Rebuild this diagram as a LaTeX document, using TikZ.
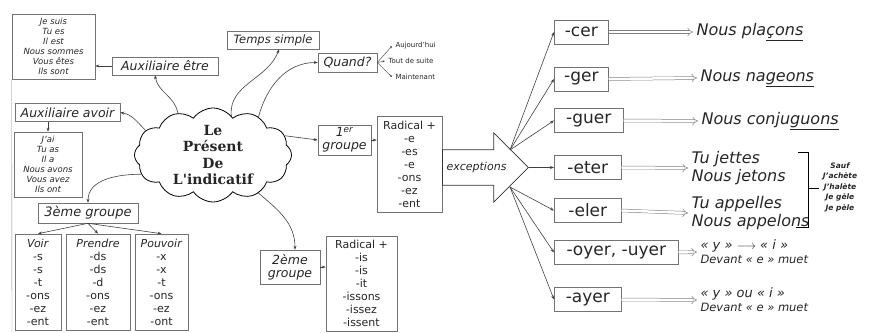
\documentclass[tikz,border=0pt]{standalone}
\usepackage{fontspec}
\setmainfont{DejaVu Sans}
\newfontfamily\titlefont{DejaVu Serif}
\usetikzlibrary{calc,shapes.symbols,shapes.arrows,arrows.meta}

\tikzset{
  box/.style={draw=black!55, line width=0.6pt, inner sep=1pt},
  lbl/.style={box, font=\itshape\fontsize{12.5}{13}\selectfont, minimum height=18pt},
  lst/.style={box, align=center, font=\fontsize{11}{13}\selectfont},
  conj/.style={box, align=center, font=\itshape\fontsize{8.5}{10}\selectfont},
  ending/.style={box, anchor=west, minimum height=24pt, font=\fontsize{17}{18}\selectfont},
  res/.style={anchor=west, align=left, font=\itshape\fontsize{16}{18}\selectfont},
  con/.style={-{Stealth[length=4pt,width=3pt]}, line width=0.6pt, black!75},
  dbl/.style={double=white, draw=black!50, double distance=2.5pt, line width=0.5pt, -{Implies}},
}

\begin{document}
\begin{tikzpicture}[x=1pt, y=1pt, text=black!85]

  \useasboundingbox (0,0) rectangle (870,332);

  % le nuage au centre
  \node[cloud, draw, line width=0.8pt, cloud puffs=12, cloud puff arc=110, aspect=1.67,
        minimum width=157pt, minimum height=94pt] (nuage) at (213,177) {};
  \node[align=center, font=\titlefont\bfseries\fontsize{14}{16.5}\selectfont] (titre) at (nuage) {Le\\Présent\\De\\L'indicatif};

  % auxiliaires
  \node[conj, minimum width=83pt, minimum height=65pt] (suis) at (53.5,285.5) {Je suis\\Tu es\\Il est\\Nous sommes\\Vous êtes\\Ils sont};
  \node[lbl, minimum width=106pt] (etre) at (165,266) {Auxiliaire être};
  \node[lbl, minimum width=105pt] (avoir) at (67.5,219.5) {Auxiliaire avoir};
  \node[conj, minimum width=68pt, minimum height=65pt] (ai) at (48,167.5) {J'ai\\Tu as\\Il a\\Nous avons\\Vous avez\\Ils ont};
  \coordinate (bas) at (12,0);
  \draw[black!45] (suis.south west) -- (bas);

  \node[lbl, minimum width=92pt, font=\itshape\fontsize{11.5}{12}\selectfont] (temps) at (273,292) {Temps simple};
  \node[lbl, minimum width=59pt, minimum height=19pt] (quand) at (347.5,269.5) {Quand?};
  \node[anchor=west, font=\fontsize{7}{8}\selectfont] (auj) at (392,286) {Aujourd'hui};
  \node[anchor=west, font=\fontsize{7}{8}\selectfont] (tds) at (385,271) {Tout de suite};
  \node[anchor=west, font=\fontsize{7}{8}\selectfont] (maint) at (392,255) {Maintenant};

  % 1er groupe
  \node[lbl, align=center, minimum width=53pt, minimum height=30pt] (g1) at (344.5,192) {1\textsuperscript{er}\\groupe};
  \node[lst, minimum width=65pt, minimum height=96pt] (rad1) at (409.5,168) {Radical +\\-e\\-es\\-e\\-ons\\-ez\\-ent};

  \node[single arrow, draw=black!80, line width=0.8pt, anchor=tail, minimum height=86pt,
        single arrow head extend=17pt, inner xsep=2pt, inner ysep=12pt,
        font=\itshape\fontsize{11}{12}\selectfont] (exc) at (442,164.5) {exceptions};
  \coordinate (up) at (510,182);
  \coordinate (dn) at (510,145);

  % exceptions
  \foreach \name/\txt/\y/\w in {cer/-cer/300/54pt, ger/-ger/253/54pt, guer/-guer/211.5/69pt,
      eter/-eter/164.5/67pt, eler/-eler/121.5/67pt, oyer/{-oyer, -uyer}/79.5/124pt, ayer/-ayer/32.5/67pt}
    \node[ending, minimum width=\w] (\name) at (554,\y) {\txt};

  \node[res] (r1) at (693,300) {Nous pla\underline{çons}};
  \node[res] (r2) at (697,254) {Nous na\underline{geons}};
  \node[res] (r3) at (698,211) {Nous conju\underline{guons}};
  \node[res] (r4) at (688,164) {Tu jettes\\Nous jetons};
  \node[res] (r5) at (688,119) {Tu appelles\\Nous appelons};
  \node[res, font=\itshape\fontsize{11.5}{14}\selectfont] (r6) at (697,80) {{\fontsize{13}{14}\selectfont « y » $\longrightarrow$ « i »}\\Devant « e » muet};
  \node[res, font=\itshape\fontsize{11.5}{14}\selectfont] (r7) at (697,32) {{\fontsize{13}{14}\selectfont « y » ou « i »}\\Devant « e » muet};

  \node[align=center, font=\bfseries\itshape\fontsize{7.5}{10.5}\selectfont] (sauf) at (840,145) {Sauf\\J'achète\\J'halète\\Je gèle\\Je pèle};
  \coordinate (bh) at (798,180);
  \coordinate (bm) at (808,144);
  \draw[line width=0.8pt] (bh) -- ++(10,0) |- (796,105);
  \draw[line width=0.8pt] (bm) -- (bm -| sauf.west);

  % 3eme et 2eme groupes
  \node[lbl, minimum width=100pt, minimum height=20pt, font=\itshape\fontsize{13}{14}\selectfont] (g3) at (88,119) {3ème groupe};
  \node[lst, minimum width=46pt, minimum height=96pt] (voir) at (38,50) {\textit{Voir}\\-s\\-s\\-t\\-ons\\-ez\\-ent};
  \node[lst, minimum width=64pt, minimum height=96pt] (prendre) at (98,50) {\textit{Prendre}\\-ds\\-ds\\-d\\-ons\\-ez\\-ent};
  \node[lst, minimum width=53pt, minimum height=96pt] (pouvoir) at (161.5,50) {\textit{Pouvoir}\\-x\\-x\\-t\\-ons\\-ez\\-ont};
  \node[lbl, align=center, minimum width=60pt, minimum height=34pt] (g2) at (290,65) {2ème\\groupe};
  \node[lst, minimum width=71pt, minimum height=95pt] (rad2) at (361.5,48.5) {Radical +\\-is\\-is\\-it\\-issons\\-issez\\-issent};

  % fleches
  \draw[con] (nuage.130) to[out=100,in=-80] ($(etre.south)+(-10,0)$);
  \draw[con] (nuage.65) to[out=95,in=-110] ($(temps.south)+(6,0)$);
  \draw[con] (nuage.40) to[out=75,in=180] (quand.west);
  \draw[con] (nuage.160) to[out=135,in=-10] (avoir.east);
  \draw[con] (nuage.15) -- (g1.west);
  \draw[con] (nuage.195) to[out=180,in=90] (g3.north);
  \draw[con] (nuage.-40) to[out=-40,in=90] ($(g2.north)+(5,0)$);

  \draw[con] (etre.west) -- (etre.west -| suis.east);
  \draw[con] (ai.north |- avoir.south) -- (ai.north);
  \draw[con] (g1.east) -- (g1.east -| rad1.west);
  \draw[con] (g2.east) -- (g2.east -| rad2.west);
  \foreach \b in {auj,tds,maint}
    \draw[con, line width=0.4pt, -{Stealth[length=2.5pt,width=2pt]}] (quand.east) -- (\b.west);
  \foreach \b in {voir,prendre,pouvoir}
    \draw[con] (g3.south) -- (\b.north);

  \draw[con] (exc.tip) -- (eter.west);
  \foreach \b in {cer,ger,guer}
    \draw[con] (up) -- (\b.west);
  \foreach \b in {eler,oyer,ayer}
    \draw[con] (dn) -- (\b.west);
  \foreach \b [count=\i] in {cer,ger,guer,eter,eler,oyer,ayer}
    \draw[dbl] (\b.east) -- (r\i.west);

\end{tikzpicture}
\end{document}
